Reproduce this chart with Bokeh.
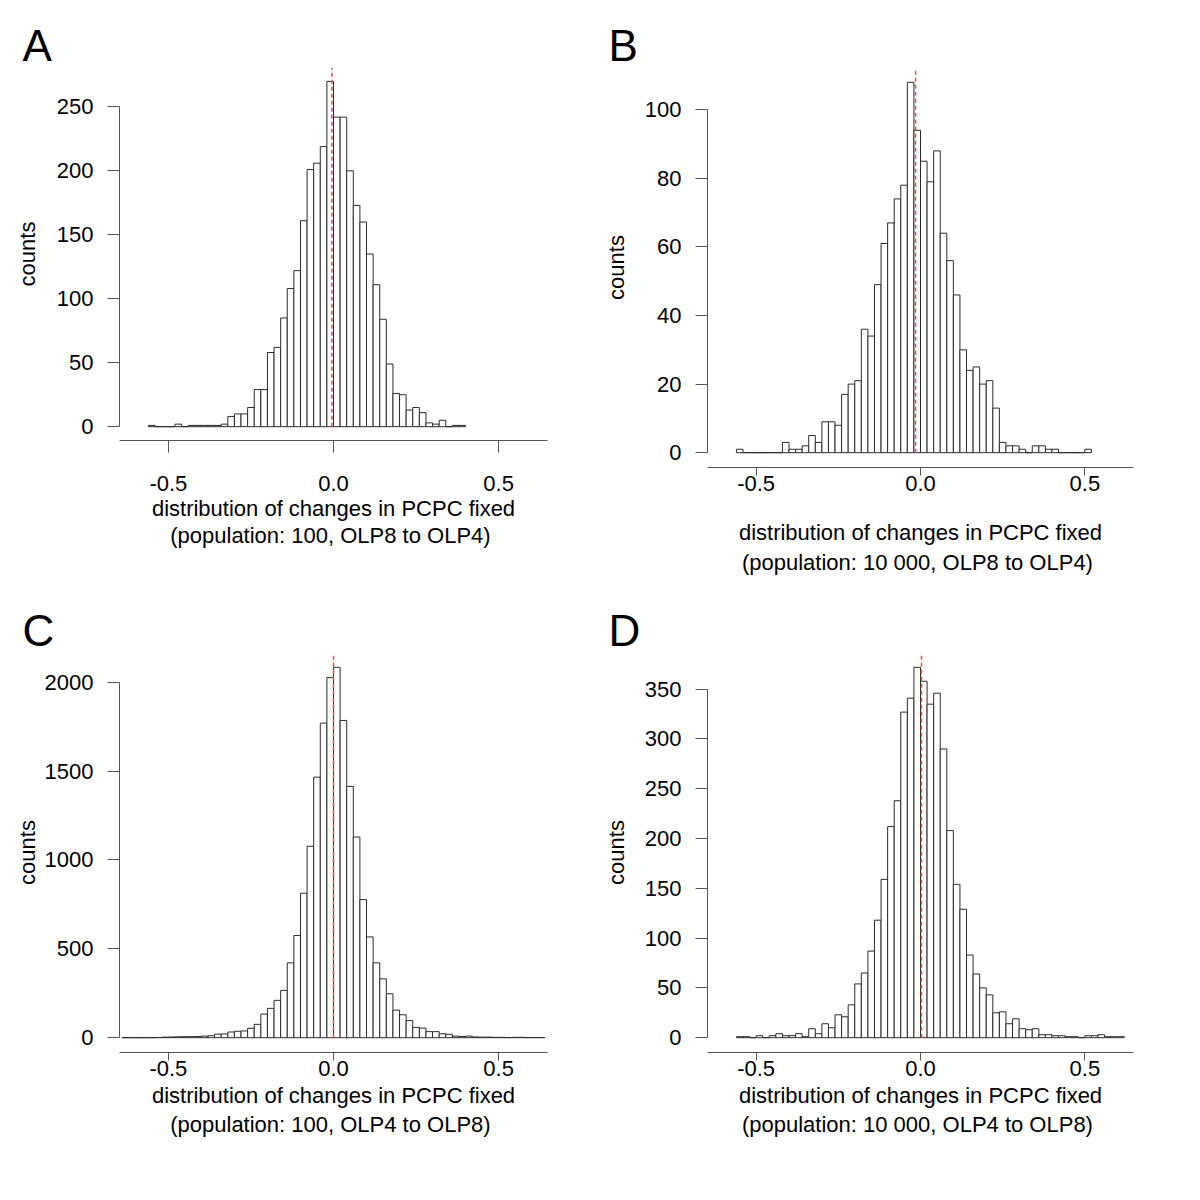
from bokeh.plotting import figure
from bokeh.models import (FixedTicker, PrintfTickFormatter, Range1d, Title,
                          ColumnDataSource)
from bokeh.layouts import column, row
from bokeh.embed import file_html
from bokeh.resources import INLINE

# ---------------- data ----------------
BIN_WIDTH = 0.02
X_LIM = (-0.6, 0.6)
X_TICKS = [-0.5, 0.0, 0.5]

a_bin_start = -0.56
a_counts = [1, 0, 0, 0, 2, 0, 1, 1, 1, 1, 1, 2, 8, 10, 10, 15, 29, 29, 58, 62,
            85, 108, 122, 161, 201, 206, 219, 270,
            242, 242, 200, 173, 160, 135, 111, 84, 49, 26, 25, 13, 15, 11, 3, 2,
            5, 0, 1, 1]
a_mean = -0.005
a_yticks = [0, 50, 100, 150, 200, 250]
a_caption = ["distribution of changes in PCPC fixed",
             "(population:  100, OLP8 to OLP4)"]

b_bin_start = -0.56
b_counts = [1, 0, 0, 0, 0, 0, 0, 3, 1, 1, 2, 5, 3, 9, 9, 8, 17, 20, 21, 36,
            34, 49, 61, 67, 74, 78, 108, 94,
            85, 79, 88, 64, 56, 46, 30, 24, 25, 20, 21, 13, 3, 2, 2, 1, 0, 2,
            2, 1, 1, 0, 0, 0, 0, 1]
b_mean = -0.015
b_yticks = [0, 20, 40, 60, 80, 100]
b_caption = ["distribution of changes in PCPC fixed",
             "(population:  10 000, OLP8 to OLP4)"]

c_bin_start = -0.64
c_counts = [0, 0, 0, 0, 0, 1, 3, 4, 5, 6, 6, 7, 9, 11, 20, 21, 32, 36, 38, 53,
            75, 133, 165, 210, 266, 421, 575, 813, 1077, 1466, 1770, 2026,
            2084, 1785, 1414, 1129, 777, 567, 421, 331, 247, 155, 129, 96, 58,
            54, 34, 34, 22, 19, 9, 7, 9, 4, 3, 3, 2, 2, 1, 2, 2, 1, 1, 1]
c_mean = 0.0
c_yticks = [0, 500, 1000, 1500, 2000]
c_caption = ["distribution of changes in PCPC fixed",
             "(population:  100, OLP4 to OLP8)"]

d_bin_start = -0.56
d_counts = [1, 1, 0, 2, 0, 2, 4, 2, 2, 4, 1, 9, 4, 14, 10, 23, 21, 33, 54, 65,
            87, 118, 159, 212, 238, 327, 341, 372,
            358, 335, 346, 290, 208, 154, 129, 83, 64, 50, 43, 25, 26, 14, 19,
            9, 8, 9, 3, 3, 2, 2, 1, 1, 0, 2, 2, 3, 1, 1, 1]
d_mean = 0.003
d_yticks = [0, 50, 100, 150, 200, 250, 300, 350]
d_caption = ["distribution of changes in PCPC fixed",
             "(population:  10 000, OLP4 to OLP8)"]

# ---------------- style / layout ----------------
FONT = "Liberation Sans"
FS = "22px"
W = H = 600


def make_panel(letter, bin_start, counts, mean, yticks, caption, g):
    n = len(counts)
    left = [bin_start + i * BIN_WIDTH for i in range(n)]
    right = [l + BIN_WIDTH for l in left]
    ymax = max(counts)
    xr = X_LIM[1] - X_LIM[0]
    y_top = 1.04 * ymax
    p = figure(width=W, height=H,
               x_range=Range1d(X_LIM[0] - 0.04 * xr, X_LIM[1] + 0.04 * xr),
               y_range=Range1d(-0.04 * ymax, y_top),
               output_backend="svg", toolbar_location=None,
               min_border_left=g["L"], min_border_right=W - g["R"],
               min_border_top=g["T"], min_border_bottom=H - g["B"])
    p.frame_align = False
    p.outline_line_color = None
    p.xgrid.visible = False
    p.ygrid.visible = False
    p.background_fill_color = "white"
    p.border_fill_color = "white"

    src = ColumnDataSource(dict(left=left, right=right, top=counts,
                                bottom=[0] * n))
    p.quad(left="left", right="right", top="top", bottom="bottom", source=src,
           fill_color="white", line_color="#2b2b2b", line_width=1)
    msrc = ColumnDataSource(dict(x0=[mean], y0=[0], x1=[mean], y1=[y_top]))
    p.segment(x0="x0", y0="y0", x1="x1", y1="y1", source=msrc,
              line_color="#e05050", line_width=1.5, line_dash="4 3")

    for ax in (p.xaxis[0], p.yaxis[0]):
        ax.major_tick_in = 0
        ax.minor_tick_out = 0
        ax.minor_tick_in = 0
        ax.axis_line_color = "#555555"
        ax.major_tick_line_color = "#555555"
        ax.major_label_text_font = FONT
        ax.major_label_text_font_size = FS
        ax.major_label_text_color = "black"
        ax.axis_label_text_font = FONT
        ax.axis_label_text_font_size = FS
        ax.axis_label_text_font_style = "normal"
        ax.axis_label_text_color = "black"
    p.xaxis.ticker = FixedTicker(ticks=X_TICKS)
    p.xaxis.formatter = PrintfTickFormatter(format="%.1f")
    p.xaxis.major_tick_out = g["xtick"]
    p.xaxis.major_label_standoff = g["xstand"]
    p.yaxis.major_tick_out = 12
    p.yaxis.ticker = FixedTicker(ticks=yticks)
    p.yaxis.formatter = PrintfTickFormatter(format="%d")
    p.yaxis.bounds = (yticks[0], yticks[-1])
    p.yaxis.major_label_standoff = 14
    p.yaxis.major_label_orientation = "horizontal"
    p.yaxis.axis_label = "counts"
    p.yaxis.axis_label_standoff = g["ystand"]

    p.title = Title(text=letter, align="left", offset=g["lx"] - g["L"],
                    text_font=FONT, text_font_size="44px",
                    text_font_style="normal", text_color="black",
                    standoff=g["tstand"])
    lines = list(caption)
    if g.get("axis_cap") is not None:
        # first caption line carried by the x axis itself
        p.xaxis.axis_label = lines.pop(0)
        p.xaxis.axis_label_standoff = g["axis_cap"]
    for i, line in enumerate(lines):
        p.add_layout(Title(text=line, align="center", text_font=FONT,
                           text_font_size=FS, text_font_style="normal",
                           text_color="black", standoff=g["cstand"][i]),
                     "below")
    return p


geo_a = dict(L=119, R=547, T=67, B=440, lx=22, tstand=-5, ystand=14,
             xtick=12, xstand=23, cstand=[0, 0])
geo_b = dict(L=107, R=533, T=67, B=467, lx=8, tstand=-5, ystand=13,
             xtick=8, xstand=0, axis_cap=26, cstand=[0])
geo_c = dict(L=119, R=547, T=52, B=452, lx=22, tstand=-5, ystand=2,
             xtick=8, xstand=0, cstand=[4, 0])
geo_d = dict(L=107, R=533, T=52, B=452, lx=8, tstand=-5, ystand=13,
             xtick=8, xstand=0, cstand=[4, 0])

pa = make_panel("A", a_bin_start, a_counts, a_mean, a_yticks, a_caption, geo_a)
pb = make_panel("B", b_bin_start, b_counts, b_mean, b_yticks, b_caption, geo_b)
pc = make_panel("C", c_bin_start, c_counts, c_mean, c_yticks, c_caption, geo_c)
pd = make_panel("D", d_bin_start, d_counts, d_mean, d_yticks, d_caption, geo_d)

layout = column(row(pa, pb), row(pc, pd))
open("out.html", "w").write(file_html(layout, INLINE))
